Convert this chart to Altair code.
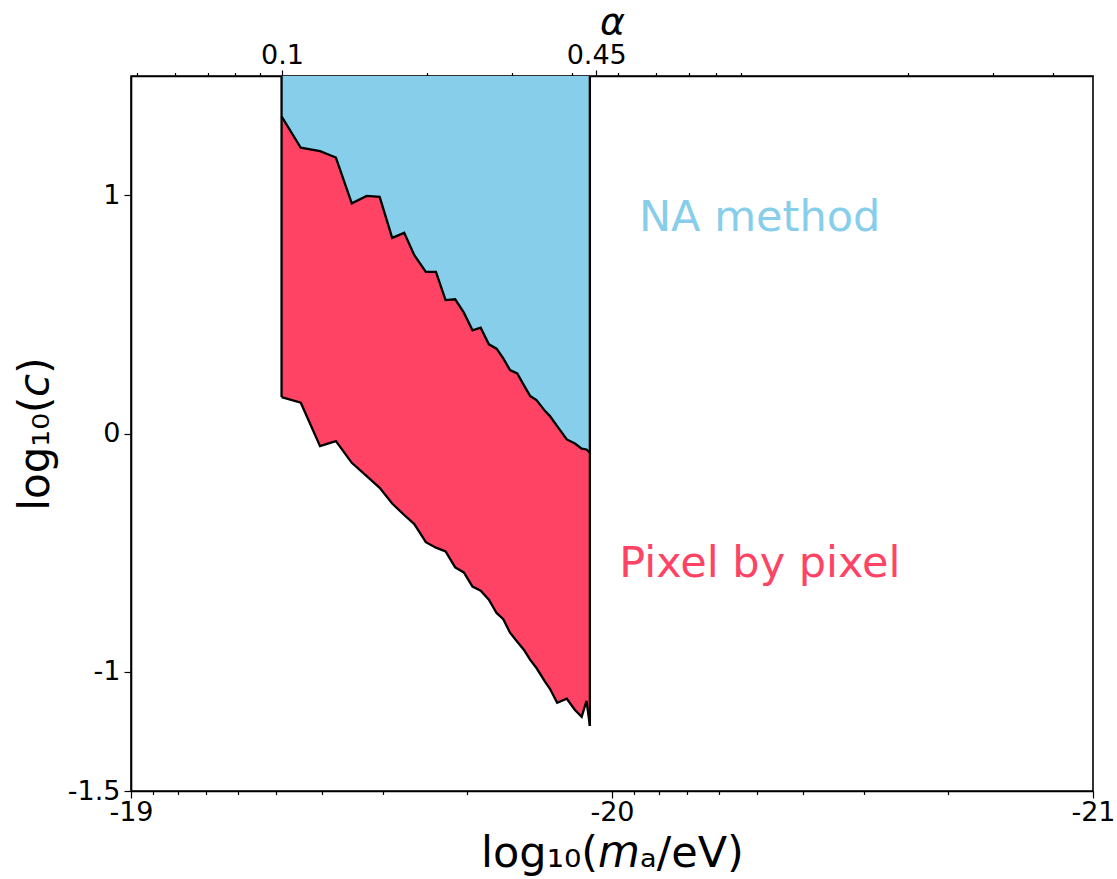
import altair as alt
import numpy as np
import pandas as pd

# Sample points of the excluded band, x = log10(m_a / eV)
log_ma = [-19.313, -19.353, -19.393, -19.426, -19.459, -19.490, -19.517, -19.543,
          -19.568, -19.589, -19.613, -19.634, -19.654, -19.674, -19.692, -19.710,
          -19.727, -19.744, -19.760, -19.774, -19.788, -19.803, -19.817, -19.830,
          -19.843, -19.861, -19.871, -19.886, -19.906, -19.923, -19.937, -19.947,
          -19.954]

# Upper edge of the pixel-by-pixel region (= lower edge of the NA-method region)
upper_edge = [1.331, 1.199, 1.185, 1.158, 0.966, 0.997, 0.993, 0.821,
              0.842, 0.748, 0.678, 0.678, 0.560, 0.563, 0.507, 0.433,
              0.444, 0.374, 0.356, 0.315, 0.266, 0.252, 0.202, 0.157,
              0.140, 0.094, 0.073, 0.031, -0.025, -0.042, -0.064, -0.067,
              -0.081]

# Lower edge of the pixel-by-pixel region
lower_edge = [0.153, 0.129, -0.053, -0.032, -0.123, -0.179, -0.228, -0.294,
              -0.342, -0.380, -0.456, -0.479, -0.495, -0.562, -0.583, -0.642,
              -0.660, -0.697, -0.753, -0.779, -0.836, -0.874, -0.908, -0.950,
              -0.984, -1.042, -1.071, -1.130, -1.113, -1.160, -1.189, -1.122,
              -1.227]

Y_TOP = 1.5
Y_BOTTOM = -1.5

x_major = [-19, -20, -21]
x_major_labels = ["-19", "-20", "-21"]
y_major = [-1.5, -1, 0, 1]
y_major_labels = ["-1.5", "-1", "0", "1"]

alpha_major = [0.1, 0.45]
alpha_major_labels = ["0.1", "0.45"]
alpha_minor = [0.05, 0.06, 0.07, 0.08, 0.09, 0.2, 0.3, 0.4, 0.5, 0.6, 0.7, 0.8, 0.9, 2, 3, 4]
alpha_domain = [0.04853, 4.853]

region_names = ["NA method", "Pixel by pixel"]
region_x = [-20.056, -20.015]
region_y = [0.85, -0.6]

NA_COLOR = "#87CEEB"
PIX_COLOR = "#FF4365"
FONT = "DejaVu Sans"
TICK_FONT_SIZE = 27
EDGE_WIDTH = 2.3

# log-spaced minor ticks for the m_a axis
x_minor = [float(np.log10(k * 10.0 ** d)) for d in (-20, -21) for k in range(2, 10)]


def label_expr(values, labels):
    parts = [f"datum.value == {v} ? '{l}'" for v, l in zip(values, labels)]
    return " : ".join(parts) + " : ''"


def major_test(values):
    return " || ".join(f"datum.value == {v}" for v in values)


band = pd.DataFrame({
    "log_ma": log_ma,
    "upper": upper_edge,
    "lower": lower_edge,
    "top": [Y_TOP] * len(log_ma),
})

edges = pd.DataFrame({
    "log_ma": [log_ma[0], log_ma[-1]],
    "y": [lower_edge[0], lower_edge[-1]],
    "y2": [Y_TOP, Y_TOP],
})

x_scale = alt.Scale(domain=[-21, -19], reverse=True, nice=False, zero=False)
y_scale = alt.Scale(domain=[Y_BOTTOM, Y_TOP], nice=False, zero=False)

x_axis = alt.Axis(
    values=x_major + x_minor,
    labelExpr=label_expr(x_major, x_major_labels),
    tickSize={"condition": {"test": major_test(x_major), "value": 7}, "value": 3.5},
    title="log₁₀(𝘮ₐ/eV)",
    titleFontSize=43,
    titleFontWeight="normal",
    titlePadding=7,
    labelFontSize=TICK_FONT_SIZE,
    labelPadding=1,
    labelFlush=False,
    grid=False,
)

y_axis = alt.Axis(
    values=y_major,
    labelExpr=label_expr(y_major, y_major_labels),
    tickSize=7,
    title="log₁₀(𝘤)",
    titleFontSize=42,
    titleFontWeight="normal",
    titlePadding=10,
    labelFontSize=TICK_FONT_SIZE,
    labelPadding=4,
    labelFlush=False,
    grid=False,
)

na_area = alt.Chart(band).mark_area(color=NA_COLOR, clip=True).encode(
    x=alt.X("log_ma:Q", scale=x_scale, axis=x_axis),
    y=alt.Y("upper:Q", scale=y_scale, axis=y_axis),
    y2="top:Q",
)

pix_area = alt.Chart(band).mark_area(color=PIX_COLOR, clip=True).encode(
    x=alt.X("log_ma:Q", scale=x_scale),
    y=alt.Y("lower:Q", scale=y_scale),
    y2="upper:Q",
)

upper_line = alt.Chart(band).mark_line(color="black", strokeWidth=EDGE_WIDTH, clip=True).encode(
    x=alt.X("log_ma:Q", scale=x_scale),
    y=alt.Y("upper:Q", scale=y_scale),
)

lower_line = alt.Chart(band).mark_line(color="black", strokeWidth=EDGE_WIDTH, clip=True).encode(
    x=alt.X("log_ma:Q", scale=x_scale),
    y=alt.Y("lower:Q", scale=y_scale),
)

edge_rules = alt.Chart(edges).mark_rule(color="black", strokeWidth=EDGE_WIDTH, clip=True).encode(
    x=alt.X("log_ma:Q", scale=x_scale),
    y=alt.Y("y:Q", scale=y_scale),
    y2="y2:Q",
)

labels = pd.DataFrame({
    "log_ma": region_x,
    "y": region_y,
    "text": region_names,
    "color": [NA_COLOR, PIX_COLOR],
})

region_text = alt.Chart(labels).mark_text(
    align="left", baseline="alphabetic", fontSize=43, font=FONT
).encode(
    x=alt.X("log_ma:Q", scale=x_scale),
    y=alt.Y("y:Q", scale=y_scale),
    text="text:N",
    color=alt.Color("color:N", scale=None),
)

main = alt.layer(na_area, pix_area, upper_line, lower_line, edge_rules, region_text)

# secondary axis: alpha on a log scale along the top
alpha_df = pd.DataFrame({"alpha": alpha_major})
alpha_layer = alt.Chart(alpha_df).mark_point(opacity=0).encode(
    x=alt.X(
        "alpha:Q",
        scale=alt.Scale(type="log", domain=alpha_domain, nice=False, zero=False),
        axis=alt.Axis(
            orient="top",
            values=alpha_major + alpha_minor,
            labelExpr=label_expr(alpha_major, alpha_major_labels),
            tickSize={"condition": {"test": major_test(alpha_major), "value": 6},
                      "value": 3.5},
            title="α",
            titleFontSize=38,
            titleFontStyle="italic",
            titleFontWeight="normal",
            titlePadding=0,
            labelFontSize=TICK_FONT_SIZE,
            labelPadding=1,
            labelFlush=False,
            grid=False,
        ),
    ),
)

chart = (
    alt.layer(main, alpha_layer)
    .resolve_scale(x="independent")
    .properties(
        width=962,
        height=715,
        autosize=alt.AutoSizeParams(type="none"),
        padding={"left": 131, "top": 76, "right": 24, "bottom": 88},
        background="white",
    )
    .configure_view(stroke="black", strokeWidth=1.6)
    .configure_axis(
        domainColor="black",
        domainWidth=1.6,
        tickColor="black",
        tickWidth=1.2,
        labelColor="black",
        titleColor="black",
        labelFont=FONT,
        titleFont=FONT,
    )
)

chart.save("out.html", embed_options={"renderer": "svg", "actions": False})
